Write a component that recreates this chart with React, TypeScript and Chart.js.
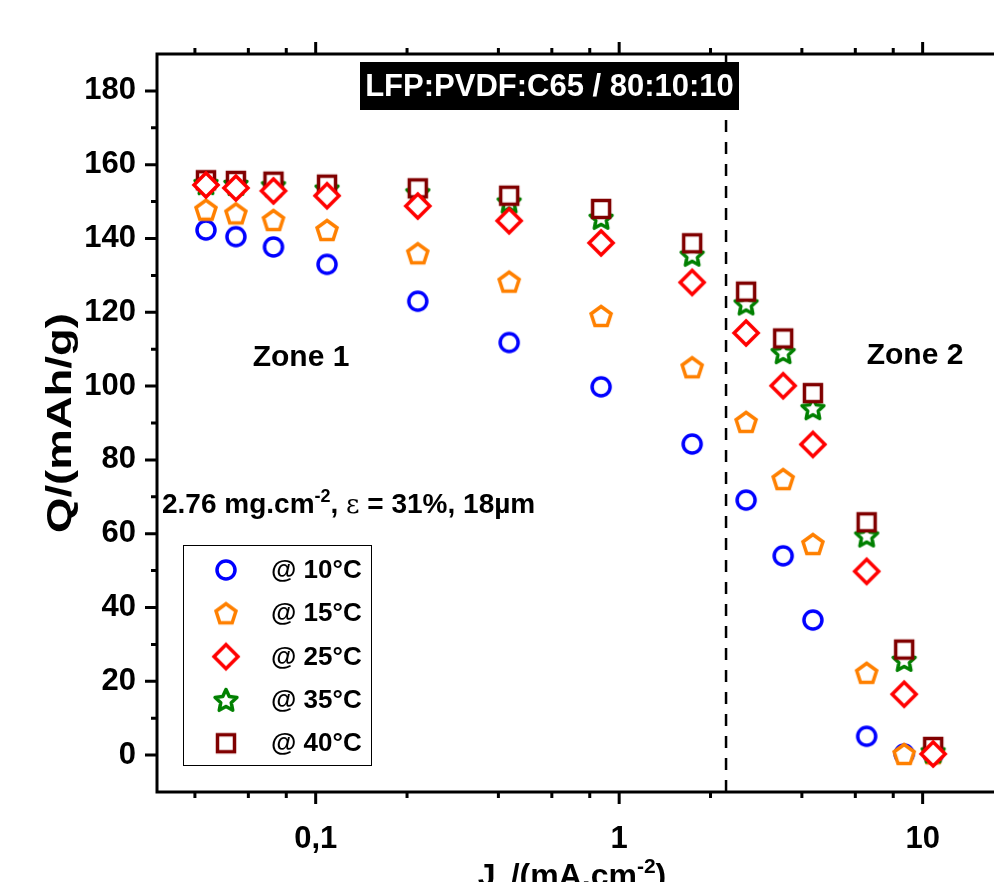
import React, { useEffect, useRef } from 'react';
import { Chart, registerables } from 'chart.js';

Chart.register(...registerables);

// ---------- data ----------
const currentDensity = [0.0435, 0.0546, 0.0726, 0.109, 0.217, 0.434, 0.872, 1.74, 2.62, 3.47, 4.35, 6.54, 8.69, 10.83];
const q10C = [142.3, 140.5, 137.7, 133.0, 123.0, 111.8, 99.8, 84.3, 69.1, 54.0, 36.6, 5.1, 0.3, 0.2];
const q15C = [147.8, 146.8, 145.0, 142.3, 136.0, 128.3, 119.0, 105.1, 90.3, 74.8, 57.2, 22.3, 0.3, 0.5];
const q25C = [154.5, 153.7, 152.9, 151.6, 148.8, 144.8, 138.8, 128.1, 114.4, 100.1, 84.2, 49.8, 16.5, 0.3];
const q35C = [155.0, 154.8, 154.4, 153.5, 152.5, 150.0, 145.6, 135.6, 122.4, 109.2, 94.0, 59.5, 25.8, 1.0];
const q40C = [155.8, 155.6, 155.4, 154.6, 153.6, 151.6, 148.0, 138.7, 125.6, 112.9, 98.1, 63.1, 28.6, 2.2];

const seriesLabels = ['@ 10°C', '@ 15°C', '@ 25°C', '@ 35°C', '@ 40°C'];
const seriesColors = ['#0000FF', '#FF8000', '#FF0000', '#008000', '#800000'];
const seriesShapes = ['circle', 'pentagon', 'diamond', 'star', 'square'];
const seriesOrder = [5, 4, 1, 3, 2];

const xTickValues = [0.1, 1, 10];
const xTickLabels = ['0,1', '1', '10'];
const xMinorTicks = [0.04, 0.06, 0.08, 0.2, 0.4, 0.6, 0.8, 2, 4, 6, 8];
const yTickValues = [0, 20, 40, 60, 80, 100, 120, 140, 160, 180];
const yMinorTicks = [10, 30, 50, 70, 90, 110, 130, 150, 170];
const zoneBoundary = 2.25;

const titleText = 'LFP:PVDF:C65 / 80:10:10';
const zone1Text = 'Zone 1';
const zone2Text = 'Zone 2';

const FONT = '"Liberation Sans", Arial, Helvetica, sans-serif';

function makeMarker(shape: string, color: string): HTMLCanvasElement {
  const c = document.createElement('canvas');
  c.width = 36;
  c.height = 36;
  const ctx = c.getContext('2d')!;
  ctx.translate(18, 18);
  ctx.lineWidth = 3.5;
  ctx.strokeStyle = color;
  ctx.fillStyle = '#ffffff';
  ctx.lineJoin = 'miter';
  ctx.beginPath();
  if (shape === 'circle') {
    ctx.arc(0, 0, 9, 0, Math.PI * 2);
  } else if (shape === 'pentagon') {
    const R = 10.5;
    for (let i = 0; i < 5; i++) {
      const a = -Math.PI / 2 + (i * 2 * Math.PI) / 5;
      const px = R * Math.cos(a);
      const py = R * Math.sin(a) + 1;
      if (i === 0) ctx.moveTo(px, py);
      else ctx.lineTo(px, py);
    }
  } else if (shape === 'diamond') {
    ctx.moveTo(0, -12);
    ctx.lineTo(12, 0);
    ctx.lineTo(0, 12);
    ctx.lineTo(-12, 0);
  } else if (shape === 'star') {
    ctx.lineJoin = 'round';
    const R = 11.5;
    const r = 5.5;
    for (let i = 0; i < 10; i++) {
      const a = -Math.PI / 2 + (i * Math.PI) / 5;
      const rr = i % 2 === 0 ? R : r;
      const px = rr * Math.cos(a);
      const py = rr * Math.sin(a) + 1;
      if (i === 0) ctx.moveTo(px, py);
      else ctx.lineTo(px, py);
    }
  } else {
    ctx.rect(-8.5, -8.5, 17, 17);
  }
  ctx.closePath();
  ctx.fill();
  ctx.stroke();
  return c;
}

function drawRich(ctx: CanvasRenderingContext2D, parts: { t: string; f: string; dy?: number }[], x: number, y: number) {
  let cx = x;
  for (const p of parts) {
    ctx.font = p.f;
    ctx.fillText(p.t, cx, y + (p.dy || 0));
    cx += ctx.measureText(p.t).width;
  }
  return cx;
}

function richWidth(ctx: CanvasRenderingContext2D, parts: { t: string; f: string }[]) {
  let w = 0;
  for (const p of parts) {
    ctx.font = p.f;
    w += ctx.measureText(p.t).width;
  }
  return w;
}

const decorPlugin = {
  id: 'decor',
  beforeDatasetsDraw(chart: any) {
    const { ctx, chartArea } = chart;
    const xs = chart.scales.x;
    const px = xs.getPixelForValue(zoneBoundary);
    ctx.save();
    ctx.strokeStyle = '#000';
    ctx.lineWidth = 2.5;
    ctx.setLineDash([12, 10]);
    ctx.beginPath();
    ctx.moveTo(px, chartArea.top);
    ctx.lineTo(px, chartArea.bottom);
    ctx.stroke();
    ctx.restore();
  },
  afterDatasetsDraw(chart: any) {
    const { ctx, chartArea } = chart;
    const xs = chart.scales.x;
    const ys = chart.scales.y;
    const { left, right, top, bottom } = chartArea;
    ctx.save();
    // frame
    ctx.strokeStyle = '#000';
    ctx.lineWidth = 3;
    ctx.setLineDash([]);
    ctx.strokeRect(left, top, right - left, bottom - top);

    // ticks
    ctx.lineWidth = 3;
    ctx.beginPath();
    const major = 12;
    const minor = 6;
    for (const v of xTickValues) {
      const p = xs.getPixelForValue(v);
      ctx.moveTo(p, bottom); ctx.lineTo(p, bottom + major);
      ctx.moveTo(p, top); ctx.lineTo(p, top - major);
    }
    for (const v of xMinorTicks) {
      const p = xs.getPixelForValue(v);
      ctx.moveTo(p, bottom); ctx.lineTo(p, bottom + minor);
      ctx.moveTo(p, top); ctx.lineTo(p, top - minor);
    }
    for (const v of yTickValues) {
      const p = ys.getPixelForValue(v);
      ctx.moveTo(left, p); ctx.lineTo(left - major, p);
      ctx.moveTo(right, p); ctx.lineTo(right + major, p);
    }
    for (const v of yMinorTicks) {
      const p = ys.getPixelForValue(v);
      ctx.moveTo(left, p); ctx.lineTo(left - minor, p);
      ctx.moveTo(right, p); ctx.lineTo(right + minor, p);
    }
    ctx.stroke();

    // title box
    ctx.fillStyle = '#000';
    ctx.fillRect(360, 62, 379, 48);
    ctx.fillStyle = '#fff';
    ctx.font = `bold 31px ${FONT}`;
    ctx.textAlign = 'center';
    ctx.textBaseline = 'middle';
    ctx.fillText(titleText, 549.5, 87);

    // zones
    ctx.fillStyle = '#000';
    ctx.font = `bold 30px ${FONT}`;
    ctx.fillText(zone1Text, 301, 358);
    ctx.fillText(zone2Text, 915, 356);

    // loading annotation
    ctx.textAlign = 'left';
    ctx.textBaseline = 'alphabetic';
    const fb = `bold 28px ${FONT}`;
    const fs = `bold 18px ${FONT}`;
    drawRich(ctx, [
      { t: '2.76 mg.cm', f: fb },
      { t: '-2', f: fs, dy: -11 },
      { t: ', ', f: fb },
      { t: 'ε', f: `26px "DejaVu Serif", serif` },
      { t: ' = 31%, 18µm', f: fb },
    ], 162, 513);

    // legend
    ctx.lineWidth = 1;
    ctx.strokeStyle = '#000';
    ctx.strokeRect(183.5, 545.5, 188, 220);
    ctx.font = `bold 26px ${FONT}`;
    ctx.textBaseline = 'middle';
    ctx.fillStyle = '#000';
    chart.data.datasets.forEach((ds: any, i: number) => {
      const yy = 570 + i * 43.3;
      const img = ds.pointStyle as HTMLCanvasElement;
      ctx.drawImage(img, 226 - img.width / 2, yy - img.height / 2);
      ctx.fillText(ds.label, 271, yy + 1);
    });

    // y axis title
    ctx.save();
    ctx.translate(61, 423);
    ctx.rotate(-Math.PI / 2);
    ctx.scale(1.3, 1);
    ctx.textAlign = 'center';
    ctx.textBaseline = 'middle';
    ctx.font = `bold 35px ${FONT}`;
    ctx.fillText('Q/(mAh/g)', 0, 0);
    ctx.restore();

    // x axis title
    ctx.textAlign = 'left';
    ctx.textBaseline = 'alphabetic';
    const xb = `bold 32px ${FONT}`;
    const xs2 = `bold 21px ${FONT}`;
    const parts = [
      { t: 'J', f: xb },
      { t: 'D', f: xs2, dy: 10 },
      { t: '/(mA.cm', f: xb },
      { t: '-2', f: xs2, dy: -13 },
      { t: ')', f: xb },
    ];
    const w = richWidth(ctx, parts);
    drawRich(ctx, parts, 572 - w / 2, 886);
    ctx.restore();
  },
};

export default function App() {
  const ref = useRef<HTMLCanvasElement | null>(null);
  useEffect(() => {
    if (!ref.current) return;
    const allSeries = [q10C, q15C, q25C, q35C, q40C];
    const datasets = allSeries.map((vals, i) => ({
      label: seriesLabels[i],
      data: currentDensity.map((x, j) => ({ x, y: vals[j] })),
      pointStyle: makeMarker(seriesShapes[i], seriesColors[i]),
      borderColor: seriesColors[i],
      backgroundColor: '#fff',
      showLine: false,
      order: seriesOrder[i],
      xAxisID: 'x',
      yAxisID: 'y',
    }));
    const tickFont = { family: FONT, size: 31, weight: 'bold' as const };
    const chart = new Chart(ref.current, {
      type: 'scatter',
      data: { datasets },
      options: {
        animation: false,
        responsive: false,
        devicePixelRatio: 1,
        layout: { padding: 0 },
        plugins: { legend: { display: false }, tooltip: { enabled: false } },
        scales: {
          x: {
            type: 'logarithmic',
            position: 'bottom',
            min: 0.03,
            max: 20,
            grid: { display: false },
            border: { display: false },
            ticks: {
              color: '#000',
              font: tickFont,
              padding: 21,
              autoSkip: false,
              maxRotation: 0,
              callback: (v: any) => {
                const k = xTickValues.indexOf(Number(v));
                return k >= 0 ? xTickLabels[k] : '';
              },
            },
            afterBuildTicks: (s: any) => { s.ticks = xTickValues.map((v) => ({ value: v })); },
            afterFit: (s: any) => { s.height = 90; },
          },
          xTop: {
            type: 'logarithmic',
            position: 'top',
            min: 0.03,
            max: 20,
            grid: { display: false },
            border: { display: false },
            ticks: { display: false },
            afterFit: (s: any) => { s.height = 54; },
          },
          y: {
            type: 'linear',
            position: 'left',
            min: -10,
            max: 190,
            grid: { display: false },
            border: { display: false },
            ticks: { color: '#000', font: tickFont, padding: 13, autoSkip: false },
            afterBuildTicks: (s: any) => { s.ticks = yTickValues.map((v) => ({ value: v })); },
            afterFit: (s: any) => { s.width = 157; },
          },
          yRight: {
            type: 'linear',
            position: 'right',
            min: -10,
            max: 190,
            grid: { display: false },
            border: { display: false },
            ticks: { display: false },
            afterFit: (s: any) => { s.width = 86; },
          },
        },
      } as any,
      plugins: [decorPlugin],
    });
    return () => chart.destroy();
  }, []);
  return (
    <div style={{ position: 'fixed', left: 0, top: 0, width: 994, height: 882, overflow: 'hidden', background: '#fff' }}>
      <canvas ref={ref} width={1100} height={882} style={{ display: 'block', width: 1100, height: 882 }} />
    </div>
  );
}
